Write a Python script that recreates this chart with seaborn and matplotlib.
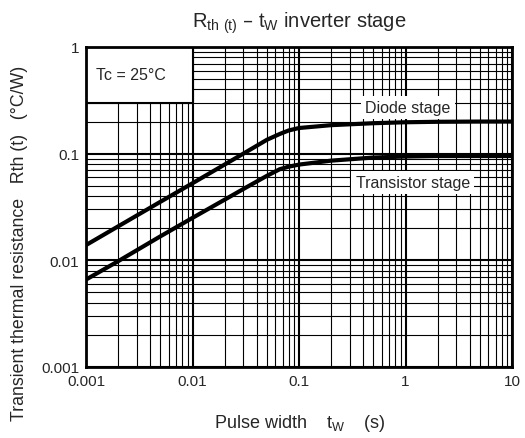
import matplotlib

matplotlib.use("Agg")
import matplotlib.pyplot as plt
import numpy as np
import pandas as pd
import seaborn as sns
from matplotlib.patches import Rectangle
from matplotlib.ticker import LogLocator, NullFormatter

# Pulse width (s) and transient thermal resistance (°C/W)
pulse_width = [0.001, 0.002, 0.005, 0.01, 0.02, 0.03, 0.05, 0.066, 0.08, 0.1,
               0.2, 0.5, 1, 2, 5, 10]
diode_rth = [0.0139, 0.0208, 0.0354, 0.0528, 0.079, 0.100, 0.135, 0.153,
             0.165, 0.174, 0.185, 0.193, 0.197, 0.199, 0.2, 0.2]
transistor_rth = [0.0066, 0.0098, 0.0168, 0.025, 0.037, 0.0466, 0.062, 0.0715,
                  0.0755, 0.079, 0.086, 0.092, 0.094, 0.095, 0.095, 0.095]

x_ticks = [0.001, 0.01, 0.1, 1, 10]
x_tick_labels = ["0.001", "0.01", "0.1", "1", "10"]
y_ticks = [0.001, 0.01, 0.1, 1]
y_tick_labels = ["0.001", "0.01", "0.1", "1"]

df = pd.DataFrame({
    "tw": pulse_width * 2,
    "rth": diode_rth + transistor_rth,
    "stage": ["Diode stage"] * len(pulse_width) + ["Transistor stage"] * len(pulse_width),
})

sns.set_style("white")
plt.rcParams["font.family"] = ["Liberation Sans", "DejaVu Sans"]
plt.rcParams["mathtext.default"] = "regular"

fig = plt.figure(figsize=(5.25, 4.39), dpi=100)
ax = fig.add_axes([86 / 525, 1 - 368 / 439, 426 / 525, 320 / 439])

ax.set_xscale("log")
ax.set_yscale("log")
ax.set_xlim(0.001, 10)
ax.set_ylim(0.001, 1)

# grid: heavier decade lines, thin lines at 2..9
ax.xaxis.set_minor_locator(LogLocator(base=10, subs=np.arange(2, 10)))
ax.yaxis.set_minor_locator(LogLocator(base=10, subs=np.arange(2, 10)))
ax.xaxis.set_minor_formatter(NullFormatter())
ax.yaxis.set_minor_formatter(NullFormatter())
ax.grid(True, which="major", color="black", linewidth=1.5)
ax.grid(True, which="minor", color="black", linewidth=0.8)
ax.set_axisbelow(True)

sns.lineplot(data=df, x="tw", y="rth", units="stage", estimator=None,
             color="black", linewidth=3, ax=ax, zorder=3)

# Tc box in the upper-left cell
ax.add_patch(Rectangle((0.001, 0.3), 0.009, 0.7, facecolor="white",
                       edgecolor="black", linewidth=1.5, zorder=2.5))
ax.text(0.00123, 0.55, "Tc = 25°C", fontsize=11.5, va="center", ha="left", zorder=4)

label_box = dict(facecolor="white", edgecolor="none", pad=3)
ax.text(1.05, 0.27, "Diode stage", fontsize=11.5, ha="center", va="center",
        bbox=label_box, zorder=4)
ax.text(1.17, 0.054, "Transistor stage", fontsize=11.5, ha="center", va="center",
        bbox=label_box, zorder=4)

ax.set_xticks(x_ticks)
ax.set_xticklabels(x_tick_labels)
ax.set_yticks(y_ticks)
ax.set_yticklabels(y_tick_labels)
ax.tick_params(axis="both", which="both", length=0, labelsize=11, pad=5)
ax.set_xlabel("")
ax.set_ylabel("")

for spine in ax.spines.values():
    spine.set_visible(True)
    spine.set_color("black")
    spine.set_linewidth(2)
    spine.set_zorder(5)

fig.text(299 / 525, 1 - 28 / 439, r"R$_{th\ (t)}$ – t$_{W}$ inverter stage",
         fontsize=14.5, ha="center", va="baseline")
fig.text(300 / 525, 1 - 428 / 439, r"Pulse width    t$_{W}$    (s)",
         fontsize=13, ha="center", va="baseline")
fig.text(20 / 525, 1 - 243 / 439, "Transient thermal resistance   Rth (t)   (°C/W)",
         fontsize=12.8, ha="center", va="center", rotation=90)

fig.savefig("out.png", dpi=100)
plt.close(fig)
